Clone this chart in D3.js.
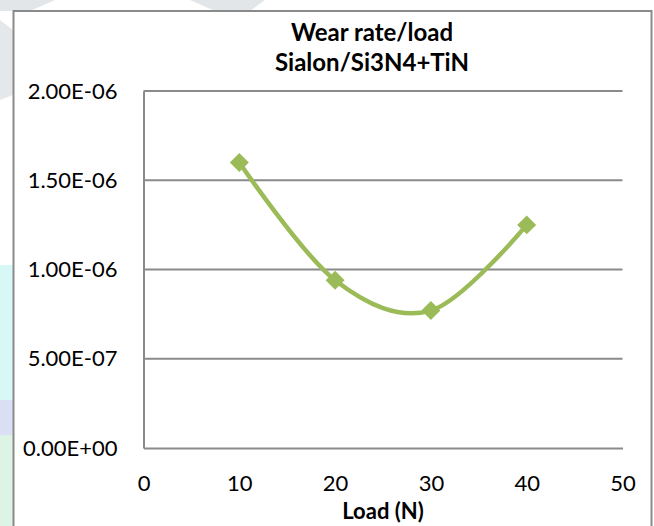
<!DOCTYPE html>
<html>
<head>
<meta charset="utf-8">
<script src="https://cdn.jsdelivr.net/npm/d3@7"></script>
<style>
  body { margin: 0; background: #fff; }
  svg { display: block; }
  text { font-family: Lato, "Open Sans", sans-serif; fill: #000; }
</style>
</head>
<body>
<svg id="area" width="654" height="526"></svg>
<script>
// data
const loads = [10, 20, 30, 40];
const wearRates = [1.60e-6, 0.94e-6, 0.77e-6, 1.25e-6];
const xTicks = [0, 10, 20, 30, 40, 50];
const yTicks = [0, 5e-7, 1e-6, 1.5e-6, 2e-6];
const titleLines = ['Wear rate/load', 'Sialon/Si3N4+TiN'];
const xTitle = 'Load (N)';

const width = 654;
const height = 526;
const margin = {
  top: 91,
  bottom: 78,
  left: 143.5,
  right: 31.5,
};
const gray = '#8a8a8a';
const green = '#9bbb59';

const svg = d3.select('#area');

// faint page watermark behind the chart box
const wm = svg.append('g');
wm.append('path').attr('d', 'M0,0 L55,0 L30,11 L0,11 Z').attr('fill', '#e2e6e8');
wm.append('path').attr('d', 'M190,0 L265,0 L250,11 L215,11 Z').attr('fill', '#e2e6e8');
wm.append('path').attr('d', 'M0,20 L13,30 L13,95 L0,100 Z').attr('fill', '#e4e8ea');
wm.append('rect').attr('x', 0).attr('y', 265).attr('width', 13).attr('height', 135).attr('fill', '#d8f8f8');
wm.append('rect').attr('x', 0).attr('y', 400).attr('width', 13).attr('height', 35).attr('fill', '#dadff3');
wm.append('rect').attr('x', 0).attr('y', 435).attr('width', 13).attr('height', 91).attr('fill', '#ddf3e6');

// chart area box
svg.append('rect')
  .attr('x', 13.5)
  .attr('y', 11)
  .attr('width', 638)
  .attr('height', 540)
  .attr('fill', '#fff')
  .attr('stroke', gray)
  .attr('stroke-width', 2);

const x = d3.scaleLinear()
  .domain([0, 50])
  .range([margin.left, width - margin.right]);
const y = d3.scaleLinear()
  .domain([0, 2e-6])
  .range([height - margin.bottom, margin.top]);

// excel style 0.00E+00
const sci = (v) => {
  const [m, e] = d3.format('.2e')(v).split('e');
  const n = +e;
  return `${m}E${n < 0 ? '-' : '+'}${String(Math.abs(n)).padStart(2, '0')}`;
};

// gridlines
svg.append('g')
  .selectAll('line')
  .data(yTicks.filter((d) => d > 0))
  .enter().append('line')
  .attr('x1', x(0))
  .attr('x2', x(50))
  .attr('y1', (d) => y(d))
  .attr('y2', (d) => y(d))
  .attr('stroke', gray)
  .attr('stroke-width', 2);

const yAxis = d3.axisLeft(y).tickValues(yTicks).tickSize(0).tickPadding(26).tickFormat(sci);
const xAxis = d3.axisBottom(x).tickValues(xTicks).tickSize(0).tickPadding(27).tickFormat(d3.format('d'));

const gy = svg.append('g')
  .attr('transform', `translate(${margin.left}, 0)`)
  .call(yAxis);
gy.select('.domain').attr('stroke', gray).attr('stroke-width', 2);
gy.selectAll('text').style('font-size', '22px').style('font-family', 'Lato');

const gx = svg.append('g')
  .attr('transform', `translate(0, ${height - margin.bottom})`)
  .call(xAxis);
gx.select('.domain').attr('stroke', gray).attr('stroke-width', 2);
gx.selectAll('text').style('font-size', '22px').style('font-family', 'Lato');

// series
const pts = loads.map((l, i) => ({ load: l, rate: wearRates[i] }));
const line = d3.line()
  .x((d) => x(d.load))
  .y((d) => y(d.rate))
  .curve(d3.curveCatmullRom.alpha(0));

svg.append('path')
  .datum(pts)
  .attr('d', line)
  .attr('fill', 'none')
  .attr('stroke', green)
  .attr('stroke-width', 4.5);

svg.selectAll('.marker')
  .data(pts)
  .enter().append('path')
  .attr('class', 'marker')
  .attr('d', d3.symbol().type(d3.symbolSquare).size(180))
  .attr('transform', (d) => `translate(${x(d.load)}, ${y(d.rate)}) rotate(45)`)
  .attr('fill', green);

// titles
svg.append('text')
  .attr('x', 372)
  .attr('text-anchor', 'middle')
  .style('font-size', '24px')
  .style('font-weight', 'bold')
  .selectAll('tspan')
  .data(titleLines)
  .enter().append('tspan')
  .attr('x', 372)
  .attr('y', (d, i) => 41 + i * 30)
  .text((d) => d);

svg.append('text')
  .attr('x', (x(0) + x(50)) / 2)
  .attr('y', 519)
  .attr('text-anchor', 'middle')
  .style('font-size', '22px')
  .style('font-weight', 'bold')
  .text(xTitle);
</script>
</body>
</html>
